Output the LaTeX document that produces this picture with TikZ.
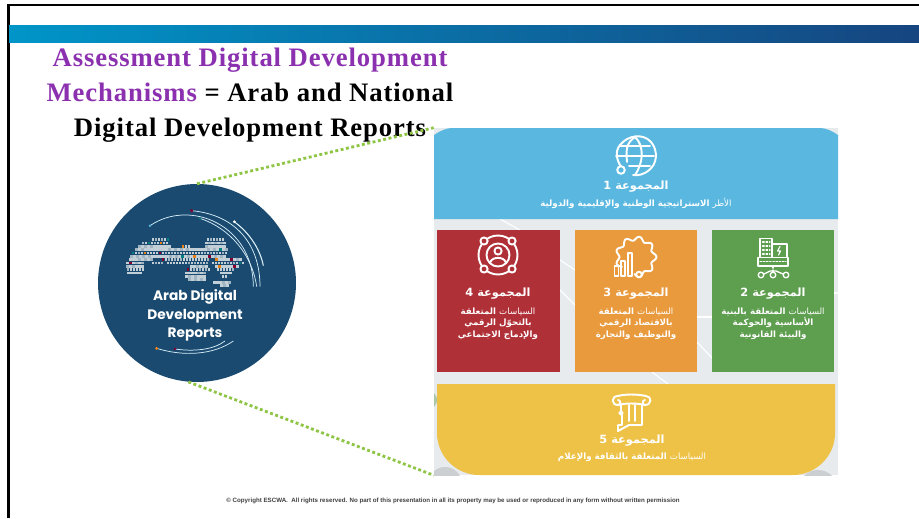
\documentclass[tikz,border=0pt]{standalone}
\usepackage{fontspec}
\setmainfont{Liberation Serif}
\newfontfamily\arabicfont[Script=Arabic]{DejaVu Sans}
\newfontfamily\titlefont[LetterSpace=3.4]{Liberation Serif}
\newfontfamily\discfont{Poppins}
\newfontfamily\footfont{Liberation Sans}
\TeXXeTstate=1
\definecolor{panelbg}{HTML}{E8EBEE}
\definecolor{cblue}{HTML}{5AB8E0}
\definecolor{cred}{HTML}{B03037}
\definecolor{corange}{HTML}{E89A3C}
\definecolor{cgreen}{HTML}{5E9E4F}
\definecolor{cyellow}{HTML}{EEC246}
\definecolor{discblue}{HTML}{1A4A70}
\definecolor{titlepurple}{HTML}{8B31B0}
\definecolor{dotgreen}{HTML}{8FC544}
\definecolor{mapdot}{HTML}{C3CFD6}
\newcommand{\lightw}[1]{{\mdseries #1}}
\tikzset{
  x=0.75pt,y=-0.75pt,
  head/.style={text=white,font=\arabicfont\bfseries\fontsize{8.5}{9}\selectfont,inner sep=0,align=center},
  body/.style={text=white,font=\arabicfont\bfseries\fontsize{6.5}{8.6}\selectfont,inner sep=0,align=center},
  icon/.style={draw=white,line width=1.45pt,line cap=round,line join=round},
  iconthin/.style={draw=white,line width=0.85pt,line cap=round,line join=round},
  link/.style={draw=dotgreen,line width=2.1pt,dash pattern=on 2.2pt off 1.9pt},
  arcline/.style={draw=white!75!cblue,line width=0.55pt},
}
\begin{document}
\begin{tikzpicture}
\useasboundingbox (0,0) rectangle (919,518);
\fill[white] (0,0) rectangle (919,518);
% frame
\draw[black,line width=1.9pt] (8.5,518) -- (8.5,5) -- (919,5);
% band
\shade[left color={rgb,255:red,0;green,149;blue,200},middle color={rgb,255:red,18;green,120;blue,172},right color={rgb,255:red,22;green,69;blue,128}] (9,25) rectangle (919,42.8);
% title
\node[align=center,inner sep=0,font=\titlefont\bfseries\fontsize{20}{26.25}\selectfont] (title) at (250,95)
  {\textcolor{titlepurple}{Assessment Digital Development}\\
   \textcolor{titlepurple}{Mechanisms} = Arab and National\\
   Digital Development Reports};
% panel background
\node[fill=panelbg,minimum width=303pt,minimum height=260.25pt,inner sep=0] (panel) at (636,301.5) {};
\begin{scope}
\clip (434,128) rectangle (838,475);
\fill[black!12!panelbg] (445,484) circle (17);
\fill[black!12!panelbg] (818,490) circle (20);
\fill[cgreen!45!panelbg] (428,400) circle (9);
\draw[white,line width=0.8pt] (500,219) -- (520,230);
\draw[white,line width=0.8pt] (560,260) -- (575,270);
\draw[white,line width=0.8pt] (560,290) -- (575,305);
\draw[white,line width=0.8pt] (697,317) -- (712,317);
\draw[white,line width=0.8pt] (697,342) -- (712,358);
\draw[white,line width=0.8pt] (652,372) -- (668,384);
\draw[white,line width=1.2pt] (834,293) -- (838,293);
\end{scope}
% boxes
\fill[cblue] (434,219) -- (434,135) .. controls (440,131) and (446,128) .. (452,128) -- (820,128) .. controls (826,128) and (832,131) .. (838,135) -- (838,219) -- cycle;
\fill[cred] (437,230) rectangle (560,372);
\fill[corange] (575,230) rectangle (697,372);
\fill[cgreen] (712,230) rectangle (834,372);
\fill[cyellow] (437,384) -- (835,384) -- (835,433) .. controls (835,457) and (815,475) .. (793,475) -- (479,475) .. controls (457,475) and (437,457) .. (437,433) -- cycle;
% globe icon
\begin{scope}[icon]
\draw (624,170.5) .. controls (617,163) and (614,152) .. (620,145) .. controls (628,135) and (643,133) .. (651,142) .. controls (658,150) and (658,164) .. (648,171) .. controls (644,174) and (638,176) .. (633,175);
\draw (616,156) -- (654,156);
\draw (620,146) -- (650,146);
\draw (629,166) -- (650,166);
\draw (635,137) .. controls (626,143) and (626,150) .. (627,162);
\draw (635,137) .. controls (644,145) and (644,162) .. (635,175);
\draw[fill=cblue] (621,170) circle (3.8);
\end{scope}
% red icon
\begin{scope}[icon]
\draw (498,255) circle (19.5);
\draw (498,255) circle (11.5);
\draw[fill=cred] (484,241) circle (3.6);
\draw[fill=cred] (512,241) circle (3.6);
\draw[fill=cred] (484,269) circle (3.6);
\draw[fill=cred] (512,269) circle (3.6);
\draw (498,251) circle (3.6);
\draw (490.5,262) .. controls (492,256.5) and (504,256.5) .. (505.5,262);
\end{scope}
% gear icon
\begin{scope}[icon]
\draw plot[smooth,samples=120,domain=95:-215,variable=\t] ({636+(18.5+2*cos(9*\t))*cos(\t)},{257+(18.5+2*cos(9*\t))*sin(\t)});
\draw[fill=corange] (639,274.5) circle (2.8);
\end{scope}
\begin{scope}[iconthin]
\draw (614.5,266) rectangle (618.5,276);
\draw (621,261) rectangle (625,276);
\draw (628,253) rectangle (632,276);
\end{scope}
% building icon
\begin{scope}[iconthin]
\draw[line width=1pt] (760,257) -- (760,238.5) -- (772,238.5) -- (772,257);
\draw[line width=1pt] (772,244) -- (787,244) -- (787,257);
\draw[line width=1pt] (758,257.5) rectangle (788,266);
\draw[line width=0.8pt,dash pattern=on 1.2pt off 1.2pt] (760,261.5) -- (786,261.5);
\foreach \yy in {242,246,250,254}{\draw[line width=0.8pt,dash pattern=on 1.3pt off 1.3pt] (762.5,\yy) -- (770,\yy);}
\draw (780,246.5) -- (777.5,251) -- (780.5,251) -- (778.5,255);
\draw[line width=0.8pt,dash pattern=on 1.6pt off 1.4pt] (773,266) -- (773,272);
\draw[line width=1pt] (764,274) -- (770,271) -- (776,271) -- (783,274);
\draw[line width=1pt,fill=cgreen] (761,275) circle (2.8);
\draw[line width=1pt,fill=cgreen] (773,275) circle (2.8);
\draw[line width=1pt,fill=cgreen] (786,275) circle (2.8);
\end{scope}
% column icon
\begin{scope}[icon]
\draw (618,396) .. controls (625,394) and (637,394) .. (646,396);
\draw (618,405) .. controls (625,403) and (637,403) .. (645,405);
\draw (618,396) .. controls (611,396) and (611,405) .. (618,405) .. controls (621,405) and (621,400) .. (618,400);
\draw (646,396) .. controls (652,396) and (652,405) .. (645,405) .. controls (642,405) and (642,400) .. (645,400);
\draw (621,405) -- (621,411);
\draw[fill=cyellow] (621,413) circle (1.8);
\draw (622,415) -- (622,425) -- (618,425) -- (618,431) -- (629,425);
\draw (629,405) -- (629,421);
\draw (635,405) -- (635,421);
\draw (642,405) -- (642,425) -- (629,425);
\end{scope}
% texts
\node[head] (h1) at (636,186.5) {\beginR المجموعة 1\endR};
\node[body] (b1) at (636,203) {\beginR\lightw{الأطر} الاستراتيجية الوطنية والإقليمية والدولية\endR};
\node[head] (h4) at (498,293.5) {\beginR المجموعة 4\endR};
\node[body] (b4) at (498,323.5) {\beginR\lightw{السياسات} المتعلقة\endR\\\beginR بالتحوّل الرقمي\endR\\\beginR والإدماج الاجتماعي\endR};
\node[head] (h3) at (636,293.5) {\beginR المجموعة 3\endR};
\node[body] (b3) at (636,323.5) {\beginR\lightw{السياسات} المتعلقة\endR\\\beginR بالاقتصاد الرقمي\endR\\\beginR والتوظيف والتجارة\endR};
\node[head] (h2) at (773,293.5) {\beginR المجموعة 2\endR};
\node[body] (b2) at (773,323.5) {\beginR\lightw{السياسات} المتعلقة بالبنية\endR\\\beginR الأساسية والحوكمة\endR\\\beginR والبيئة القانونية\endR};
\node[head] (h5) at (632,440.5) {\beginR المجموعة 5\endR};
\node[body] (b5) at (632,457) {\beginR\lightw{السياسات} المتعلقة بالثقافة والإعلام\endR};
% disc
\node[circle,fill=discblue,minimum size=148.5pt,inner sep=0] (disc) at (197,283) {};
\draw[link] (disc.north) -- (panel.north west);
\draw[link] (disc.265) -- (panel.south west);
\begin{scope}[shift={(90,175)},x=0.25pt,y=-0.25pt]
\foreach \ry/\xa/\xb in {190/185/230,190/350/395,200/155/235,200/345/400,210/145/240,210/275/300,210/345/405,220/135/405,230/125/405,240/120/400,250/118/185,250/215/350,250/375/450,260/108/155,260/185/215,260/230/355,260/365/455,270/108/155,270/300/350,270/375/445,280/110/155,280/290/355,280/380/430,290/112/155,290/285/345,290/390/420,300/285/340,300/395/410,310/295/340,318/370/415,328/390/415}{
  \pgfmathtruncatemacro{\xc}{\xa+9}
  \foreach \dx in {\xa,\xc,...,\xb}{
    \pgfmathtruncatemacro{\kk}{mod(\dx*7+\ry*3,41)}
    \ifnum\kk=0 \def\dc{purple!70!black}\else\ifnum\kk=7 \def\dc{teal}\else\ifnum\kk=13 \def\dc{orange!70!brown}\else\ifnum\kk<12 \def\dc{mapdot!80!discblue}\else\def\dc{mapdot}\fi\fi\fi\fi
    \fill[\dc] (\dx,\ry) rectangle ++(8,8);
  }
}
\draw[arcline] (180,152) .. controls (300,70) and (490,150) .. (490,335);
\draw[arcline] (305,107) .. controls (440,120) and (510,210) .. (510,335);
\draw[arcline] (330,130) .. controls (420,160) and (487,240) .. (500,335);
\draw[white!80!cblue,line width=0.8pt] (432,140) .. controls (475,170) and (510,220) .. (520,272);
\fill[cblue] (180,152) circle (4);
\fill[purple!70!black] (305,107) circle (5);
\fill[teal] (330,130) circle (4);
\fill[white] (433,140) circle (4.5);
\fill[discblue] (102,335) rectangle (520,500);
\draw[arcline] (200,520) .. controls (280,545) and (370,540) .. (430,498);
\draw[arcline] (255,522) .. controls (310,530) and (370,525) .. (405,498);
\fill[orange!70!brown] (200,520) circle (5);
\fill[purple!70!black] (255,522) circle (4);
\end{scope}
\node[text=white,align=center,inner sep=0,font=\discfont\bfseries\fontsize{10.3}{13.8}\selectfont] (disclabel) at (195,315.5) {Arab Digital\\Development\\Reports};
% footer
\node[text=black!75,inner sep=0,font=\footfont\bfseries\fontsize{4.63}{5}\selectfont] (foot) at (453,500.5)
  {© Copyright ESCWA.\ \ All rights reserved. No part of this presentation in all its property may be used or reproduced in any form without written permission};
\end{tikzpicture}
\end{document}
